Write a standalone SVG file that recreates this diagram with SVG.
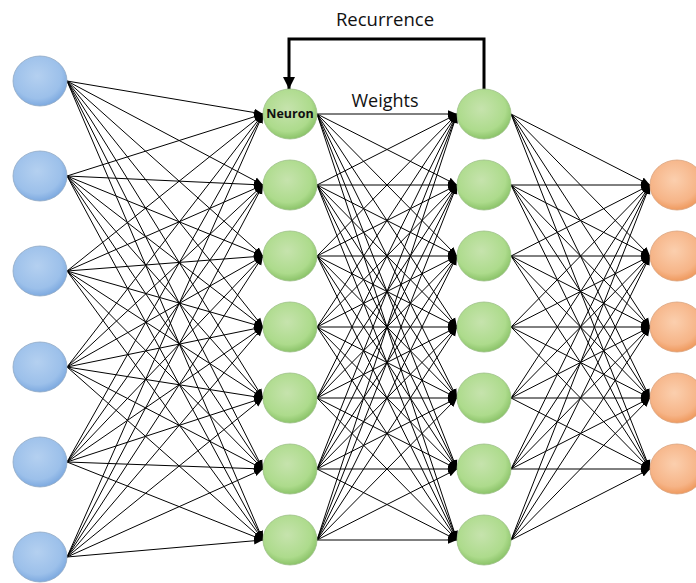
<svg xmlns="http://www.w3.org/2000/svg" width="696" height="583" viewBox="0 0 696 583">
  <defs>
    <radialGradient id="gBlue" cx="0.45" cy="0.4" r="0.6">
      <stop offset="0" stop-color="#b4d0f0"/>
      <stop offset="0.75" stop-color="#9cc0ea"/>
      <stop offset="1" stop-color="#7eaae0"/>
    </radialGradient>
    <radialGradient id="gGreen" cx="0.45" cy="0.4" r="0.6">
      <stop offset="0" stop-color="#c6e3ad"/>
      <stop offset="0.75" stop-color="#addb8c"/>
      <stop offset="1" stop-color="#8cc46a"/>
    </radialGradient>
    <radialGradient id="gOrange" cx="0.45" cy="0.4" r="0.6">
      <stop offset="0" stop-color="#fbcfae"/>
      <stop offset="0.75" stop-color="#f6b487"/>
      <stop offset="1" stop-color="#ef9a5f"/>
    </radialGradient>
    <marker id="tip" markerUnits="userSpaceOnUse" markerWidth="10" markerHeight="9" refX="9" refY="4.5" orient="auto">
      <path d="M0,0.8 L9,4.5 L0,8.2 Z" fill="#000"/>
    </marker>
    <marker id="bigTip" markerUnits="userSpaceOnUse" markerWidth="14" markerHeight="14" refX="12" refY="7" orient="auto">
      <path d="M0,1 L12,7 L0,13 Z" fill="#000"/>
    </marker>
  </defs>
  <style>
    .w { stroke: #000; stroke-width: 1; fill: none; marker-end: url(#tip); }
    .rec { stroke: #000; stroke-width: 3; fill: none; marker-end: url(#bigTip); }
    .blue { fill: url(#gBlue); stroke: #8fa8c4; stroke-width: 0.8; }
    .green { fill: url(#gGreen); stroke: #9cbf86; stroke-width: 0.8; }
    .orange { fill: url(#gOrange); stroke: #d9a27c; stroke-width: 0.8; }
    .lbl { font-family: "Open Sans", "Liberation Sans", sans-serif; fill: #111; }
  </style>
  <rect width="696" height="583" fill="#fff"/>

  <!-- connectors: fully connected layers -->
  <g id="connectors">
    <!-- input -> hidden 1 -->
    <path class="w" d="M67,81 L263,114"/><path class="w" d="M67,81 L263,185"/><path class="w" d="M67,81 L263,256"/><path class="w" d="M67,81 L263,327"/><path class="w" d="M67,81 L263,398"/><path class="w" d="M67,81 L263,469"/><path class="w" d="M67,81 L263,540"/>
    <path class="w" d="M67,176 L263,114"/><path class="w" d="M67,176 L263,185"/><path class="w" d="M67,176 L263,256"/><path class="w" d="M67,176 L263,327"/><path class="w" d="M67,176 L263,398"/><path class="w" d="M67,176 L263,469"/><path class="w" d="M67,176 L263,540"/>
    <path class="w" d="M67,271 L263,114"/><path class="w" d="M67,271 L263,185"/><path class="w" d="M67,271 L263,256"/><path class="w" d="M67,271 L263,327"/><path class="w" d="M67,271 L263,398"/><path class="w" d="M67,271 L263,469"/><path class="w" d="M67,271 L263,540"/>
    <path class="w" d="M67,367 L263,114"/><path class="w" d="M67,367 L263,185"/><path class="w" d="M67,367 L263,256"/><path class="w" d="M67,367 L263,327"/><path class="w" d="M67,367 L263,398"/><path class="w" d="M67,367 L263,469"/><path class="w" d="M67,367 L263,540"/>
    <path class="w" d="M67,462 L263,114"/><path class="w" d="M67,462 L263,185"/><path class="w" d="M67,462 L263,256"/><path class="w" d="M67,462 L263,327"/><path class="w" d="M67,462 L263,398"/><path class="w" d="M67,462 L263,469"/><path class="w" d="M67,462 L263,540"/>
    <path class="w" d="M67,557 L263,114"/><path class="w" d="M67,557 L263,185"/><path class="w" d="M67,557 L263,256"/><path class="w" d="M67,557 L263,327"/><path class="w" d="M67,557 L263,398"/><path class="w" d="M67,557 L263,469"/><path class="w" d="M67,557 L263,540"/>
    <!-- hidden 1 -> hidden 2 -->
    <path class="w" d="M317,114 L457,114"/><path class="w" d="M317,114 L457,185"/><path class="w" d="M317,114 L457,256"/><path class="w" d="M317,114 L457,327"/><path class="w" d="M317,114 L457,398"/><path class="w" d="M317,114 L457,469"/><path class="w" d="M317,114 L457,540"/>
    <path class="w" d="M317,185 L457,114"/><path class="w" d="M317,185 L457,185"/><path class="w" d="M317,185 L457,256"/><path class="w" d="M317,185 L457,327"/><path class="w" d="M317,185 L457,398"/><path class="w" d="M317,185 L457,469"/><path class="w" d="M317,185 L457,540"/>
    <path class="w" d="M317,256 L457,114"/><path class="w" d="M317,256 L457,185"/><path class="w" d="M317,256 L457,256"/><path class="w" d="M317,256 L457,327"/><path class="w" d="M317,256 L457,398"/><path class="w" d="M317,256 L457,469"/><path class="w" d="M317,256 L457,540"/>
    <path class="w" d="M317,327 L457,114"/><path class="w" d="M317,327 L457,185"/><path class="w" d="M317,327 L457,256"/><path class="w" d="M317,327 L457,327"/><path class="w" d="M317,327 L457,398"/><path class="w" d="M317,327 L457,469"/><path class="w" d="M317,327 L457,540"/>
    <path class="w" d="M317,398 L457,114"/><path class="w" d="M317,398 L457,185"/><path class="w" d="M317,398 L457,256"/><path class="w" d="M317,398 L457,327"/><path class="w" d="M317,398 L457,398"/><path class="w" d="M317,398 L457,469"/><path class="w" d="M317,398 L457,540"/>
    <path class="w" d="M317,469 L457,114"/><path class="w" d="M317,469 L457,185"/><path class="w" d="M317,469 L457,256"/><path class="w" d="M317,469 L457,327"/><path class="w" d="M317,469 L457,398"/><path class="w" d="M317,469 L457,469"/><path class="w" d="M317,469 L457,540"/>
    <path class="w" d="M317,540 L457,114"/><path class="w" d="M317,540 L457,185"/><path class="w" d="M317,540 L457,256"/><path class="w" d="M317,540 L457,327"/><path class="w" d="M317,540 L457,398"/><path class="w" d="M317,540 L457,469"/><path class="w" d="M317,540 L457,540"/>
    <!-- hidden 2 -> output -->
    <path class="w" d="M511,114 L650,185"/><path class="w" d="M511,114 L650,256"/><path class="w" d="M511,114 L650,327"/><path class="w" d="M511,114 L650,398"/><path class="w" d="M511,114 L650,469"/>
    <path class="w" d="M511,185 L650,185"/><path class="w" d="M511,185 L650,256"/><path class="w" d="M511,185 L650,327"/><path class="w" d="M511,185 L650,398"/><path class="w" d="M511,185 L650,469"/>
    <path class="w" d="M511,256 L650,185"/><path class="w" d="M511,256 L650,256"/><path class="w" d="M511,256 L650,327"/><path class="w" d="M511,256 L650,398"/><path class="w" d="M511,256 L650,469"/>
    <path class="w" d="M511,327 L650,185"/><path class="w" d="M511,327 L650,256"/><path class="w" d="M511,327 L650,327"/><path class="w" d="M511,327 L650,398"/><path class="w" d="M511,327 L650,469"/>
    <path class="w" d="M511,398 L650,185"/><path class="w" d="M511,398 L650,256"/><path class="w" d="M511,398 L650,327"/><path class="w" d="M511,398 L650,398"/><path class="w" d="M511,398 L650,469"/>
    <path class="w" d="M511,469 L650,185"/><path class="w" d="M511,469 L650,256"/><path class="w" d="M511,469 L650,327"/><path class="w" d="M511,469 L650,398"/><path class="w" d="M511,469 L650,469"/>
    <path class="w" d="M511,540 L650,185"/><path class="w" d="M511,540 L650,256"/><path class="w" d="M511,540 L650,327"/><path class="w" d="M511,540 L650,398"/><path class="w" d="M511,540 L650,469"/>
    <!-- recurrence loop -->
    <path class="rec" d="M484,91 L484,39 L289,39 L289,89"/>
  </g>

  <!-- labels -->
  <text class="lbl" x="385" y="26" font-size="18.5" text-anchor="middle">Recurrence</text>
  <text class="lbl" x="385" y="107" font-size="18" text-anchor="middle">Weights</text>

  <!-- input layer -->
  <g id="in1"><ellipse class="blue" cx="40" cy="81" rx="27" ry="25"/></g>
  <g id="in2"><ellipse class="blue" cx="40" cy="176" rx="27" ry="25"/></g>
  <g id="in3"><ellipse class="blue" cx="40" cy="271" rx="27" ry="25"/></g>
  <g id="in4"><ellipse class="blue" cx="40" cy="367" rx="27" ry="25"/></g>
  <g id="in5"><ellipse class="blue" cx="40" cy="462" rx="27" ry="25"/></g>
  <g id="in6"><ellipse class="blue" cx="40" cy="557" rx="27" ry="25"/></g>

  <!-- hidden layer 1 -->
  <g id="h1n1">
    <ellipse class="green" cx="290" cy="114" rx="27" ry="25"/>
    <text class="lbl" x="290" y="118" font-size="12.5" font-weight="bold" text-anchor="middle">Neuron</text>
  </g>
  <g id="h1n2"><ellipse class="green" cx="290" cy="185" rx="27" ry="25"/></g>
  <g id="h1n3"><ellipse class="green" cx="290" cy="256" rx="27" ry="25"/></g>
  <g id="h1n4"><ellipse class="green" cx="290" cy="327" rx="27" ry="25"/></g>
  <g id="h1n5"><ellipse class="green" cx="290" cy="398" rx="27" ry="25"/></g>
  <g id="h1n6"><ellipse class="green" cx="290" cy="469" rx="27" ry="25"/></g>
  <g id="h1n7"><ellipse class="green" cx="290" cy="540" rx="27" ry="25"/></g>

  <!-- hidden layer 2 -->
  <g id="h2n1"><ellipse class="green" cx="484" cy="114" rx="27" ry="25"/></g>
  <g id="h2n2"><ellipse class="green" cx="484" cy="185" rx="27" ry="25"/></g>
  <g id="h2n3"><ellipse class="green" cx="484" cy="256" rx="27" ry="25"/></g>
  <g id="h2n4"><ellipse class="green" cx="484" cy="327" rx="27" ry="25"/></g>
  <g id="h2n5"><ellipse class="green" cx="484" cy="398" rx="27" ry="25"/></g>
  <g id="h2n6"><ellipse class="green" cx="484" cy="469" rx="27" ry="25"/></g>
  <g id="h2n7"><ellipse class="green" cx="484" cy="540" rx="27" ry="25"/></g>

  <!-- output layer -->
  <g id="out1"><ellipse class="orange" cx="677" cy="185" rx="27" ry="25"/></g>
  <g id="out2"><ellipse class="orange" cx="677" cy="256" rx="27" ry="25"/></g>
  <g id="out3"><ellipse class="orange" cx="677" cy="327" rx="27" ry="25"/></g>
  <g id="out4"><ellipse class="orange" cx="677" cy="398" rx="27" ry="25"/></g>
  <g id="out5"><ellipse class="orange" cx="677" cy="469" rx="27" ry="25"/></g>
</svg>
